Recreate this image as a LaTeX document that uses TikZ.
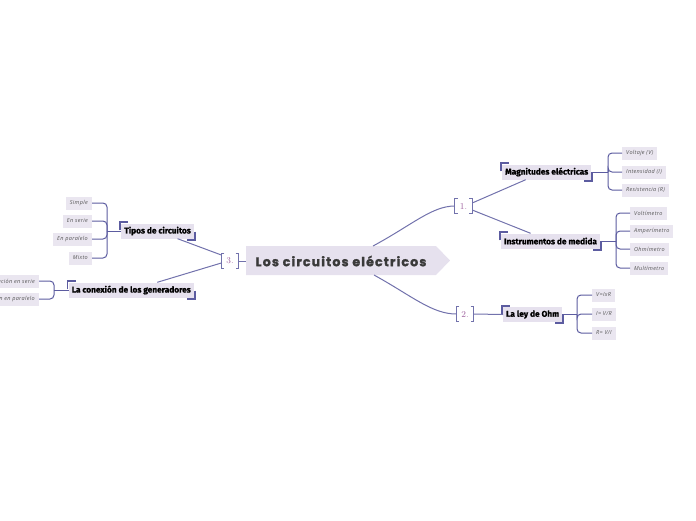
\documentclass[tikz,border=0pt]{standalone}
\usepackage{fontspec}
\setsansfont{Fira Sans}[BoldFeatures={FakeBold=1.2}]
\newfontfamily\titlefont{Poppins}[LetterSpace=9,BoldFeatures={FakeBold=1.6}]
\newfontfamily\leaffont{Open Sans}[LetterSpace=6]
\usetikzlibrary{calc}
\definecolor{figFill}{HTML}{E6E1EE}
\definecolor{figLeaf}{HTML}{EAE6F0}
\definecolor{figLine}{HTML}{5C5CA0}
\definecolor{figLink}{HTML}{7272AC}
\definecolor{figNum}{HTML}{9C5E9C}
\definecolor{figTitle}{HTML}{3A3A3A}
\definecolor{figLeafInk}{HTML}{555555}

\tikzset{
  topic/.style={fill=figFill,font=\sffamily\bfseries\fontsize{8.3}{9}\selectfont,minimum height=15pt,inner xsep=3pt,inner ysep=0pt},
  leaf/.style={fill=figLeaf,text=figLeafInk,font=\leaffont\itshape\fontsize{5.5}{6}\selectfont,minimum height=13pt,inner xsep=4pt,inner ysep=0pt},
  numbox/.style={text=figNum,font=\fontsize{9}{10}\selectfont,minimum width=17pt,minimum height=14pt,inner sep=0pt},
  brk/.style={figLink,line width=0.9pt},
  link/.style={figLink,line width=1pt},
  brace/.style={figLine,line width=1pt,rounded corners=4pt},
  corner/.style={figLine,line width=1.8pt}
}

\begin{document}
\begin{tikzpicture}[x=1pt,y=-1pt]
    \useasboundingbox (0,0) rectangle (696,520);
    % central topic
    \fill[figFill] (246,246) -- (436,246) -- (450,260.5) -- (436,275) -- (246,275) -- cycle;
    \node[text=figTitle,font=\titlefont\bfseries\fontsize{12.6}{14}\selectfont] (root) at (341,261) {Los circuitos eléctricos};
    \coordinate (rootN) at (373,246);
    \coordinate (rootS) at (374,275);
    \coordinate (rootW) at (246,261);
    % numbered brackets
    \node[numbox] (b1) at (463.5,206) {1.};
    \node[numbox] (b2) at (465,314) {2.};
    \node[numbox] (b3) at (230,261) {3.};
    \foreach \n in {b1,b2,b3} {
        \draw[brk] ([xshift=3pt]\n.north west) -- (\n.north west) -- (\n.south west) -- ++(3pt,0);
        \draw[brk] ([xshift=-3pt]\n.north east) -- (\n.north east) -- (\n.south east) -- ++(-3pt,0);
    }
    % main topics
    \node[topic,anchor=west] (mag) at (502,172) {Magnitudes eléctricas};
    \node[topic,anchor=west] (ins) at (501,241) {Instrumentos de medida};
    \node[topic,anchor=west] (ohm) at (503,314.5) {La ley de Ohm};
    \node[topic,anchor=east] (tip) at (194,231) {Tipos de circuitos};
    \node[topic,anchor=east] (con) at (194,290) {La conexión de los generadores};
    % corner marks
    \foreach \n in {mag,ins,ohm,tip,con} {
        \draw[corner] ([shift={(-1pt,-7pt)}]\n.north west) -- ([shift={(-1pt,1pt)}]\n.north west) -- ([shift={(7pt,1pt)}]\n.north west);
        \draw[corner] ([shift={(1pt,7pt)}]\n.south east) -- ([shift={(1pt,-1pt)}]\n.south east) -- ([shift={(-7pt,-1pt)}]\n.south east);
    }
    % links from the centre
    \draw[link] (rootN) .. controls (412,225) and (432,206) .. (b1.west);
    \draw[link] (rootS) .. controls (412,296) and (432,314) .. (b2.west);
    \draw[link] (b3.east) -- (rootW);
    \draw[link] ([yshift=3pt]b1.east) -- ([xshift=-21pt]mag.south);
    \draw[link] ([yshift=-4pt]b1.east) -- ([xshift=-20pt]ins.north);
    \draw[link] (b2.east) -- (ohm.west);
    \draw[link] ([yshift=6pt]b3.west) -- ([xshift=20pt]tip.south);
    \draw[link] ([yshift=-2pt]b3.west) -- ([xshift=26pt]con.north);
    % leaves
    \node[leaf,anchor=west] (v1) at (622,153) {Voltaje (V)};
    \node[leaf,anchor=west] (v2) at (622,172) {Intensidad (I)};
    \node[leaf,anchor=west] (v3) at (622,190) {Resistencia (R)};
    \node[leaf,anchor=west] (m1) at (630,213) {Voltímetro};
    \node[leaf,anchor=west] (m2) at (630,231) {Amperímetro};
    \node[leaf,anchor=west] (m3) at (630,249) {Ohmímetro};
    \node[leaf,anchor=west] (m4) at (630,268) {Multímetro};
    \node[leaf,anchor=west] (o1) at (592,295) {V=IxR};
    \node[leaf,anchor=west] (o2) at (592,314) {I= V/R};
    \node[leaf,anchor=west] (o3) at (592,333) {R= V/I};
    \node[leaf,anchor=east] (t1) at (92,203) {Simple};
    \node[leaf,anchor=east] (t2) at (92,221) {En serie};
    \node[leaf,anchor=east] (t3) at (92,239) {En paralelo};
    \node[leaf,anchor=east] (t4) at (92,258) {Mixto};
    \node[leaf,anchor=east] (c1) at (39,281) {Combinación en serie};
    \node[leaf,anchor=east] (c2) at (39,299) {Combinación en paralelo};
    % braces
    \coordinate (magJ) at (608,172);
    \coordinate (insJ) at (616,241);
    \coordinate (ohmJ) at (577,314.5);
    \coordinate (tipJ) at (107,231);
    \coordinate (conJ) at (54,290);
    \draw[brace] (mag.east) -- (magJ);
    \draw[brace] (ins.east) -- (insJ);
    \draw[brace] (ohm.east) -- (ohmJ);
    \draw[brace] (tip.west) -- (tipJ);
    \draw[brace] (con.west) -- (conJ);
    \foreach \l in {v1,v2,v3} \draw[brace] (magJ) |- (\l.west);
    \foreach \l in {m1,m2,m3,m4} \draw[brace] (insJ) |- (\l.west);
    \foreach \l in {o1,o2,o3} \draw[brace] (ohmJ) |- (\l.west);
    \foreach \l in {t1,t2,t3,t4} \draw[brace] (tipJ) |- (\l.east);
    \foreach \l in {c1,c2} \draw[brace] (conJ) |- (\l.east);
\end{tikzpicture}
\end{document}
